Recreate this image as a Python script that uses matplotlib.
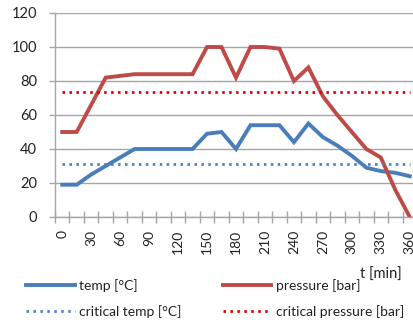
import matplotlib
matplotlib.use("Agg")
import matplotlib.pyplot as plt
import numpy as np

plt.rcParams['font.family'] = ['Lato', 'DejaVu Sans']

t_min = [0, 15, 30, 45, 60, 75, 90, 105, 120, 135, 150, 165, 180, 195, 210,
         225, 240, 255, 270, 285, 300, 315, 330, 345, 360]
temp = [19, 19, 25, 30, 35, 40, 40, 40, 40, 40, 49, 50, 40, 54, 54,
        54, 44, 55, 47, 42, 36, 29, 27, 26, 24]
pressure = [50, 50, 66, 82, 83, 84, 84, 84, 84, 84, 100, 100, 82, 100, 100,
            99, 80, 88, 71, 60, 50, 40, 35, 16, 0]
crit_temp = 31.1
crit_pressure = 73.8
y_ticks = [0, 20, 40, 60, 80, 100, 120]

blue = '#4A7EBB'
red = '#BE4B48'
blue_dot = '#4F81BD'
red_dot = '#E00000'
grid_c = '#A6A6A6'
text_c = '#222222'

W, H = 413, 324
fig = plt.figure(figsize=(W / 100, H / 100), dpi=100)
ax = fig.add_axes([55 / W, 1 - 217 / H, (417 - 55) / W, (217 - 13) / H])

n = len(t_min)
x = np.arange(n)

l_temp, = ax.plot(x, temp, color=blue, lw=2.8, solid_joinstyle='miter', label='temp [°C]')
l_pres, = ax.plot(x, pressure, color=red, lw=2.8, solid_joinstyle='miter', label='pressure [bar]')
l_ct, = ax.plot(x, [crit_temp] * n, color=blue_dot, lw=2.0, linestyle=(0, (0.9, 1.6)),
                label='critical temp [°C]')
l_cp, = ax.plot(x, [crit_pressure] * n, color=red_dot, lw=2.0, linestyle=(0, (0.9, 1.6)),
                label='critical pressure [bar]')

ax.set_xlim(-0.5, n - 0.5)
ax.set_ylim(0, 120)
ax.set_yticks(y_ticks)
ax.yaxis.grid(True, color=grid_c, lw=1.0)
ax.set_axisbelow(True)

ax.set_xticks(x[::2])
ax.set_xticklabels([str(v) for v in t_min[::2]], rotation=90)
ax.set_xticks(np.arange(-0.5, n, 1.0), minor=True)
ax.tick_params(axis='x', which='major', length=0, pad=9, labelsize=10, labelcolor=text_c)
ax.tick_params(axis='x', which='minor', length=9, direction='inout', color=grid_c, width=1.0)
ax.tick_params(axis='y', which='major', length=4.5, direction='out', color=grid_c, width=1.0,
               pad=8.5, labelsize=10.5, labelcolor=text_c)

for s in ['top', 'right']:
    ax.spines[s].set_visible(False)
for s in ['left', 'bottom']:
    ax.spines[s].set_color(grid_c)
    ax.spines[s].set_linewidth(1.0)

fig.text(402 / W, 1 - 275 / H, 't [min]', ha='right', va='center', fontsize=10.5, color=text_c)

leg = fig.legend([l_temp, l_ct, l_pres, l_cp],
                 ['temp [°C]', 'critical temp [°C]', 'pressure [bar]', 'critical pressure [bar]'],
                 ncol=2, loc='upper left', bbox_to_anchor=(26 / W, 1 - 279 / H),
                 frameon=False, borderpad=0, borderaxespad=0, handlelength=3.5,
                 handletextpad=0.3, columnspacing=3.0, labelspacing=0.95, fontsize=10)
for tx in leg.get_texts():
    tx.set_color(text_c)

fig.savefig('out.png', dpi=100)
